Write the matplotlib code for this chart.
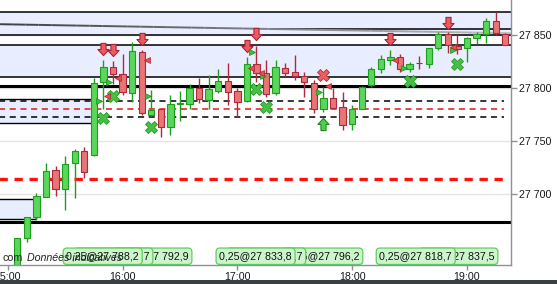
import matplotlib
matplotlib.use("Agg")
import matplotlib.pyplot as plt
import numpy as np
from matplotlib.path import Path
from matplotlib.patches import Rectangle
from matplotlib.collections import LineCollection
import matplotlib.transforms as mtransforms

plt.rcParams['font.family'] = ['Liberation Sans', 'DejaVu Sans']

# ---------------- data ----------------
# 5-minute candles, time = minutes after 15:00 (first candle 15:05)
opens = [27625.0, 27658.6, 27678.3, 27697.7, 27722.9, 27704.7, 27729.2, 27740.8, 27737.0, 27805.5,
         27819.6, 27813.0, 27795.1, 27833.7, 27774.4, 27780.0, 27763.1, 27784.8, 27784.7, 27799.8,
         27788.8, 27797.6, 27807.0, 27797.3, 27787.9, 27822.4, 27814.5, 27795.1, 27819.2, 27814.9,
         27811.7, 27805.1, 27780.3, 27790.4, 27781.9, 27765.9, 27780.3, 27802.9, 27817.7, 27826.2,
         27829.0, 27817.7, 27823.6, 27822.4, 27837.5, 27850.7, 27839.9, 27837.5, 27846.9, 27850.7,
         27863.5, 27850.7]
highs = [27659.0, 27678.5, 27701.0, 27729.2, 27726.6, 27736.1, 27742.4, 27744.3, 27809.5, 27826.5,
         27825.5, 27831.8, 27843.7, 27836.0, 27798.2, 27780.5, 27793.5, 27797.6, 27803.6, 27809.2,
         27812.3, 27817.7, 27823.9, 27800.0, 27829.6, 27839.6, 27826.5, 27826.5, 27823.4, 27831.2,
         27814.9, 27807.6, 27800.8, 27799.8, 27796.0, 27783.8, 27802.0, 27820.2, 27831.2, 27835.9,
         27831.8, 27824.9, 27830.2, 27837.5, 27852.5, 27852.5, 27850.0, 27847.8, 27852.5, 27865.7,
         27871.9, 27851.9]
lows = [27620.0, 27655.4, 27676.0, 27697.5, 27698.4, 27685.2, 27696.2, 27715.0, 27736.0, 27780.0,
        27804.0, 27793.5, 27787.2, 27774.7, 27774.0, 27753.7, 27755.8, 27769.3, 27780.0, 27785.7,
        27780.0, 27795.7, 27784.1, 27772.5, 27787.0, 27806.0, 27791.3, 27793.5, 27810.2, 27807.6,
        27791.3, 27776.3, 27777.2, 27781.0, 27760.5, 27760.5, 27780.0, 27801.3, 27813.9, 27821.8,
        27815.2, 27815.4, 27817.7, 27818.6, 27835.9, 27833.3, 27832.1, 27824.9, 27841.2, 27842.7,
        27850.0, 27840.6]
closes = [27658.9, 27678.3, 27698.4, 27721.9, 27704.7, 27728.2, 27740.8, 27721.3, 27805.1, 27819.6,
          27813.0, 27796.0, 27834.9, 27776.3, 27779.4, 27763.1, 27784.7, 27785.2, 27799.8, 27789.5,
          27798.9, 27807.0, 27796.6, 27787.2, 27822.4, 27814.5, 27794.4, 27820.2, 27813.9, 27811.4,
          27805.5, 27780.0, 27790.4, 27781.5, 27765.3, 27780.0, 27800.8, 27817.7, 27827.1, 27829.0,
          27817.7, 27822.4, 27823.2, 27837.5, 27850.7, 27840.6, 27836.5, 27846.9, 27850.7, 27863.5,
          27851.6, 27840.6]
candle_minutes = [5 * (i + 1) for i in range(len(opens))]

# horizontal levels
zones = [(27850.0, 27871.4), (27810.2, 27840.3)]
solid_levels = [27871.4, 27850.0, 27840.3, 27810.2]
thick_levels = [27801.7, 27673.6]
dashed_levels = [27787.9, 27772.5]
red_dashed_level = 27780.0
red_thick_dashed_level = 27714.4
partial_level = (27855.4, 137.0)          # price, start minute
trend_line = ((-4.0, 27860.2), (263.0, 27851.7))

# old zones boxes (price low, price high, end minute)
boxes = [(27766.9, 27789.5, 45.4), (27676.9, 27695.3, 15.0)]

# signals
sell_arrow_min = [50, 55, 70, 125, 130, 200, 230]
sell_arrow_price = [27836.6, 27835.7, 27846.0, 27839.5, 27850.9, 27846.0, 27861.0]
buy_arrow_min = [165]
buy_arrow_price = [27766.5]
green_x_min = [50, 55, 75, 130, 135, 210, 235]
green_x_price = [27771.6, 27792.8, 27763.7, 27798.9, 27781.9, 27807.0, 27822.4]
red_x_min = [165]
red_x_price = [27812.1]
green_tri_min = [47.8, 53.1, 73.1, 127.5, 133.2, 162.8, 207.2, 232.8]
green_tri_price = [27788.1, 27805.5, 27792.6, 27833.7, 27811.4, 27796.0, 27818.6, 27835.9]
red_tri_min = [52.0, 57.8, 72.6, 127.1, 132.3, 167.5, 202.3, 232.6]
red_tri_price = [27792.8, 27809.2, 27826.5, 27818.6, 27814.5, 27802.0, 27826.5, 27839.0]

# trade labels (drawing order), box edge minute, alignment
label_texts = ["0,25@27 792,9", "0,25@27 807,7", "0,25@27 788,2",
               "0,25@27 796,2", "0,25@27 826,7", "0,25@27 833,8",
               "0,25@27 837,5", "0,25@27 818,7"]
label_minutes = [96.3, 75.9, 28.9, 185.6, 155.8, 108.8, 256.2, 192.5]
label_align = ["right", "right", "left", "right", "right", "left", "right", "left"]

yticks = [27700, 27750, 27800, 27850]
xtick_minutes = [0, 60, 120, 180, 240]
xtick_labels = ["15:00", "16:00", "17:00", "18:00", "19:00"]

# ---------------- figure ----------------
W, H = 557, 284
fig = plt.figure(figsize=(W / 100, H / 100), dpi=100)
ax = fig.add_axes([0, 19 / H, 511 / W, 265 / H])
ax.set_xlim(-4.04, 263.0)
ax.set_ylim(27633.4, 27883.0)
ax.set_facecolor("white")

# grid
for y in yticks:
    ax.axhline(y, color="#e4e4e4", lw=1.0, zorder=0.4)

# zones
for lo, hi in zones:
    ax.axhspan(lo, hi, color="#e8eeff", zorder=0.5, lw=0)

# old boxes
for lo, hi, end in boxes:
    ax.add_patch(Rectangle((-10, lo), end + 10, hi - lo, facecolor="#e8eeff",
                           edgecolor="black", lw=1.0, zorder=0.8))

for y in solid_levels:
    ax.axhline(y, color="black", lw=1.1, zorder=2)
for y in thick_levels:
    ax.axhline(y, color="black", lw=2.2, zorder=2)
ax.plot([partial_level[1], 263], [partial_level[0]] * 2, color="black", lw=1.1, zorder=2)

# gradient trend line
(x0, y0), (x1, y1) = trend_line
n = 40
xs = np.linspace(x0, x1, n + 1)
ys = np.linspace(y0, y1, n + 1)
segs = [[(xs[k], ys[k]), (xs[k + 1], ys[k + 1])] for k in range(n)]
cols = [(0.25 + 0.5 * k / n,) * 3 for k in range(n)]
ax.add_collection(LineCollection(segs, colors=cols, linewidths=1.4, zorder=2))

xend = 259.5
for y in dashed_levels:
    ax.plot([-5, xend], [y, y], color="black", lw=1.1, ls=(0, (4, 3)), zorder=2)
ax.plot([-5, xend], [red_dashed_level] * 2, color="#e01818", lw=1.1, ls=(0, (4, 3)), zorder=2)
ax.plot([-5, xend], [red_thick_dashed_level] * 2, color="#ff1010", lw=2.4, ls=(0, (2.5, 2)), zorder=2)

# candles
g_face, g_edge = "#5ad65a", "#1e9e1e"
r_face, r_edge = "#e87474", "#b0283c"
bw = 3.3
for t, o, h, l, c in zip(candle_minutes, opens, highs, lows, closes):
    up = c >= o
    fc, ec = (g_face, g_edge) if up else (r_face, r_edge)
    ax.vlines(t, l, h, color=ec, lw=1.0, zorder=3)
    bottom = min(o, c)
    height = max(abs(c - o), 0.9)
    ax.add_patch(Rectangle((t - bw / 2, bottom), bw, height, facecolor=fc,
                           edgecolor=ec, lw=0.8, zorder=3.1))

# markers
down_path = Path([(-2.5, 6), (2.5, 6), (2.5, 0), (5.5, 0), (0, -6), (-5.5, 0), (-2.5, 0), (-2.5, 6)],
                 [Path.MOVETO] + [Path.LINETO] * 6 + [Path.CLOSEPOLY])
up_path = Path([(x, -y) for x, y in down_path.vertices], down_path.codes)
ax.plot(sell_arrow_min, sell_arrow_price, ls="none", marker=down_path, ms=8.8,
        mfc="#e85c5c", mec="#b0203a", mew=0.8, zorder=4)
ax.plot(buy_arrow_min, buy_arrow_price, ls="none", marker=up_path, ms=8.8,
        mfc="#52cc52", mec="#1a8a1a", mew=0.8, zorder=4)
ax.plot(green_x_min, green_x_price, ls="none", marker="X", ms=8.0,
        mfc="#44c044", mec="#2a9a2a", mew=0.6, zorder=4)
ax.plot(red_x_min, red_x_price, ls="none", marker="X", ms=8.0,
        mfc="#e86060", mec="#c02838", mew=0.6, zorder=4)
ax.plot(green_tri_min, green_tri_price, ls="none", marker=">", ms=4.5,
        mfc="#3cc03c", mec="#1e8e1e", mew=0.5, zorder=4)
ax.plot(red_tri_min, red_tri_price, ls="none", marker="<", ms=4.5,
        mfc="#e85050", mec="#b02030", mew=0.5, zorder=4)

# trade labels
trans = mtransforms.blended_transform_factory(ax.transData, ax.transAxes)
for txt, t, al in zip(label_texts, label_minutes, label_align):
    off = 2.4 if al == "left" else -2.4
    ax.annotate(txt, xy=(t, 0.033), xycoords=trans, xytext=(off, 0), textcoords="offset points",
                ha=al, va="center", fontsize=7.7, color="#111111", zorder=5,
                bbox=dict(boxstyle="round,pad=0.3,rounding_size=0.35", fc="#ccf5cc",
                          ec="#5fcf5f", lw=0.9), annotation_clip=False)

ax.text(0.004, 0.028, "com", transform=ax.transAxes, fontsize=7.7, color="#222222",
        va="center", ha="left", zorder=6)
ax.text(0.053, 0.028, "Données indicatives", transform=ax.transAxes, fontsize=7.7,
        style="italic", color="#222222", va="center", ha="left", zorder=6)

# axes styling
for s in ["top", "left"]:
    ax.spines[s].set_visible(False)
for s in ["right", "bottom"]:
    ax.spines[s].set_color("#8c9298")
    ax.spines[s].set_linewidth(1.0)
    ax.spines[s].set_zorder(7)
ax.yaxis.tick_right()
ax.set_yticks(yticks)
ax.set_yticklabels([f"{v:,}".replace(",", " ") for v in yticks])
ax.set_xticks(xtick_minutes)
ax.set_xticklabels(xtick_labels)
ax.tick_params(axis="y", direction="out", length=4, width=1, color="#8c9298",
               labelsize=7.7, labelcolor="#1a1a1a", pad=2)
ax.tick_params(axis="x", direction="out", length=3.5, width=1, color="#8c9298",
               labelsize=7.7, labelcolor="#1a1a1a", pad=1.5)

# dark bottom bar
fig.patches.append(Rectangle((0, 0), 1, 4 / H, transform=fig.transFigure,
                             facecolor="#3a3f44", edgecolor="none", zorder=10))

fig.savefig("out.png", dpi=100)
